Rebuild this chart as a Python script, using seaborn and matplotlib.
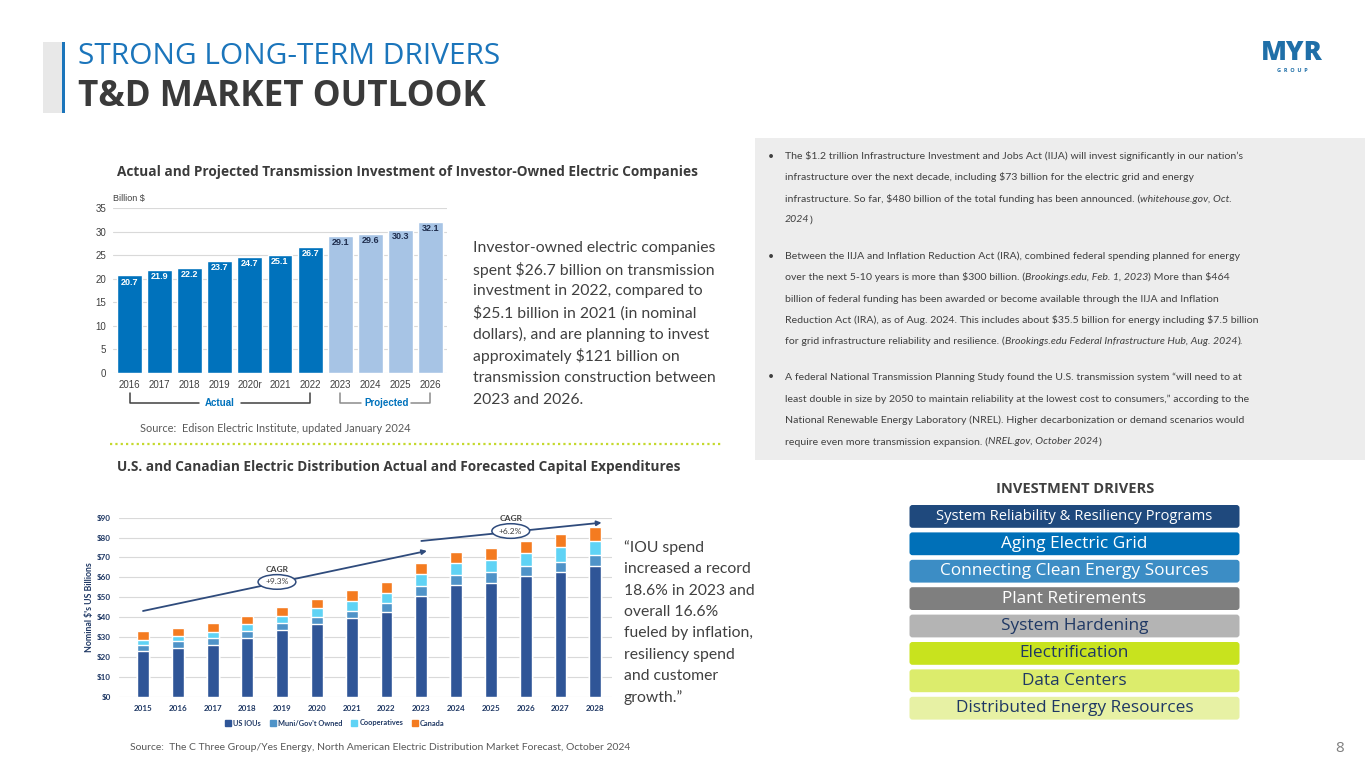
import matplotlib
matplotlib.use("Agg")
import matplotlib.pyplot as plt
import matplotlib.transforms as mtransforms
from matplotlib.patches import Rectangle, FancyBboxPatch, Patch
import pandas as pd
import seaborn as sns

sns.set_theme(style="white")
BODY = ["Lato", "DejaVu Sans"]
HEAD = ["Open Sans", "DejaVu Sans"]
ARIAL = ["Liberation Sans", "DejaVu Sans"]
plt.rcParams["font.family"] = BODY

W, H = 1365, 768

# transmission investment, EEI (billion $)
trans_years = ["2016", "2017", "2018", "2019", "2020r", "2021", "2022", "2023", "2024", "2025", "2026"]
trans_values = [20.7, 21.9, 22.2, 23.7, 24.7, 25.1, 26.7, 29.1, 29.6, 30.3, 32.1]
trans_status = ["Actual"] * 7 + ["Projected"] * 4

# distribution capex, C Three Group (nominal $ billions)
dist_years = [str(y) for y in range(2015, 2029)]
us_ious = [23.1, 24.6, 26.1, 29.7, 33.5, 36.5, 39.4, 42.7, 50.4, 56.1, 57.3, 60.5, 62.7, 65.9]
muni_gov = [2.9, 3.4, 3.2, 3.5, 3.4, 3.6, 3.7, 4.5, 5.4, 5.0, 5.4, 5.0, 5.2, 5.2]
coops = [2.5, 2.5, 3.4, 3.3, 3.8, 4.5, 5.0, 5.0, 5.7, 6.0, 6.0, 6.6, 7.2, 7.2]
canada = [4.5, 4.2, 4.2, 4.2, 4.4, 4.3, 5.5, 5.4, 5.7, 5.7, 6.0, 6.2, 6.5, 6.8]
dist_layers = ["US IOUs", "Muni/Gov't Owned", "Cooperatives", "Canada"]
dist_colors = ["#2f5597", "#4f93c8", "#5fd3f5", "#f47b20"]

# CAGR arrows: (x start, y start, x end, y end) in category / $ units
cagr_labels = ["+9.3%", "+6.2%"]
cagr_arrows = [(0.0, 43.1, 8.16, 73.3), (8.0, 78.3, 13.18, 87.5)]
cagr_label_pos = [(3.85, 57.7), (10.57, 83.3)]

drivers = ["System Reliability & Resiliency Programs", "Aging Electric Grid",
           "Connecting Clean Energy Sources", "Plant Retirements", "System Hardening",
           "Electrification", "Data Centers", "Distributed Energy Resources"]
driver_colors = ["#1f497d", "#0070b8", "#3c8dc5", "#7f7f7f", "#b4b4b4",
                 "#c8e31e", "#dcec6c", "#e7f1a4"]
driver_text = ["white"] * 4 + ["#1f3864"] * 4

bullets = [
    [[("The $1.2 trillion Infrastructure Investment and Jobs Act (IIJA) will invest significantly in our nation’s", False)],
     [("infrastructure over the next decade, including $73 billion for the electric grid and energy", False)],
     [("infrastructure. So far, $480 billion of the total funding has been announced. (", False), ("whitehouse.gov, Oct.", True)],
     [("2024", True), (")", False)]],
    [[("Between the IIJA and Inflation Reduction Act (IRA), combined federal spending planned for energy", False)],
     [("over the next 5-10 years is more than $300 billion. (", False), ("Brookings.edu, Feb. 1, 2023", True), (") More than $464", False)],
     [("billion of federal funding has been awarded or become available through the IIJA and Inflation", False)],
     [("Reduction Act (IRA), as of Aug. 2024. This includes about $35.5 billion for energy including $7.5 billion", False)],
     [("for grid infrastructure reliability and resilience. (", False), ("Brookings.edu Federal Infrastructure Hub, Aug. 2024", True), (").", False)]],
    [[("A federal National Transmission Planning Study found the U.S. transmission system “will need to at", False)],
     [("least double in size by 2050 to maintain reliability at the lowest cost to consumers,” according to the", False)],
     [("National Renewable Energy Laboratory (NREL). Higher decarbonization or demand scenarios would", False)],
     [("require even more transmission expansion. (", False), ("NREL.gov, October 2024", True), (")", False)]],
]
bullet_rows = [[156, 177, 199, 220], [256, 277, 299, 320, 341], [377, 399, 420, 442]]

trans_note = ["Investor-owned electric companies", "spent $26.7 billion on transmission",
              "investment in 2022, compared to", "$25.1 billion in 2021 (in nominal",
              "dollars), and are planning to invest", "approximately $121 billion on",
              "transmission construction between", "2023 and 2026."]
quote = ["“IOU spend", "increased a record", "18.6% in 2023 and", "overall 16.6%",
         "fueled by inflation,", "resiliency spend", "and customer", "growth.”"]

fig = plt.figure(figsize=(W / 100, H / 100), dpi=100)
bg = fig.add_axes([0, 0, 1, 1])
bg.set_xlim(0, W)
bg.set_ylim(H, 0)
bg.axis("off")
R = fig.canvas.get_renderer()


def put(x, y, s, size, color="#404040", family=BODY, **kw):
    kw.setdefault("va", "center")
    return bg.text(x, y, s, fontsize=size, color=color, family=family, parse_math=False, **kw)


def text_width(s, size, family=BODY, **kw):
    t = put(0, 0, "|" + s + "|", size, family=family, **kw)
    t2 = put(0, 0, "||", size, family=family, **kw)
    w = t.get_window_extent(R).width - t2.get_window_extent(R).width
    t.remove()
    t2.remove()
    return w


def fit(s, width, family=BODY, **kw):
    return 10 * width / text_width(s, 10, family, **kw)


def rich(x, y, parts, size, color="#404040", family=BODY):
    for s, italic in parts:
        style = "italic" if italic else "normal"
        put(x, y, s, size, color, family, style=style)
        x += text_width(s, size, family, style=style)


def px_axes(left, top, right, bottom):
    return fig.add_axes([left / W, 1 - bottom / H, (right - left) / W, (bottom - top) / H])


# header
bg.add_patch(Rectangle((43, 42), 19, 71, fc="#e8e8e8", ec="none"))
bg.add_patch(Rectangle((62, 42), 3, 71, fc="#1b75bb", ec="none"))
put(78, 56, "STRONG LONG-TERM DRIVERS", fit("STRONG LONG-TERM DRIVERS", 422, HEAD), "#1b75bb", HEAD)
put(78, 97, "T&D MARKET OUTLOOK", fit("T&D MARKET OUTLOOK", 407, HEAD, weight="bold"),
    "#3a3a3a", HEAD, weight="bold")
put(1292, 53, "MYR", fit("MYR", 62, HEAD, weight="heavy"), "#1f6fa8", HEAD, weight="heavy", ha="center")
put(1292, 71, "G  R  O  U  P", 4, "#1f6fa8", HEAD, ha="center", weight="bold")
put(1340, 748, "8", 11, "#7f7f7f", HEAD, ha="center")

# section titles
sub1 = "Actual and Projected Transmission Investment of Investor-Owned Electric Companies"
sub2 = "U.S. and Canadian Electric Distribution Actual and Forecasted Capital Expenditures"
sub_size = fit(sub1, 582, HEAD, weight="bold")
put(117, 172, sub1, sub_size, "#3b3b3b", HEAD, weight="bold")
put(117, 467, sub2, sub_size, "#3b3b3b", HEAD, weight="bold")
bg.plot([110, 722], [444, 444], color="#c5d92d", lw=1.6, ls=(0, (1, 1.4)))

# transmission bar chart
ax1 = px_axes(113, 208.3, 447, 372.7)
trans = pd.DataFrame({"year": trans_years, "value": trans_values, "status": trans_status})
sns.barplot(data=trans, x="year", y="value", hue="status", dodge=False, width=0.83, saturation=1,
            palette={"Actual": "#0072bc", "Projected": "#a7c4e5"}, legend=False, ax=ax1)
ax1.set_ylim(0, 35)
ax1.set_xlim(-0.55, len(trans_years) - 0.45)
ax1.set_yticks(range(0, 36, 5))
ax1.yaxis.grid(True, color="#d9d9d9", lw=0.8)
ax1.set_axisbelow(True)
sns.despine(ax=ax1, left=True, bottom=True)
ax1.set_xlabel("")
ax1.set_ylabel("")
ax1.tick_params(length=0, labelsize=7, colors="#404040", pad=5)
plt.setp(ax1.get_xticklabels() + ax1.get_yticklabels(), family=ARIAL)
for i, (v, st) in enumerate(zip(trans_values, trans_status)):
    ax1.text(i, v - 1.4, f"{v}", ha="center", va="center", fontsize=6.5, fontweight="bold",
             family=ARIAL, color="white" if st == "Actual" else "#1f2d4d")
put(113, 198, "Billion $", 6.5, "#404040", ARIAL)

# actual / projected brackets
tr = mtransforms.blended_transform_factory(ax1.transData, ax1.transAxes)
for (x0, x1, gap0, gap1, label, lc) in [(0, 6, 2.3, 3.7, "Actual", "#404040"),
                                        (7, 10, 7.7, 9.35, "Projected", "#8c8c8c")]:
    ax1.plot([x0, x0, gap0], [-0.125, -0.185, -0.185], color=lc, lw=1.1, transform=tr, clip_on=False)
    ax1.plot([gap1, x1, x1], [-0.185, -0.185, -0.125], color=lc, lw=1.1, transform=tr, clip_on=False)
    ax1.text((gap0 + gap1) / 2, -0.185, label, transform=tr, ha="center", va="center",
             fontsize=7, fontweight="bold", family=ARIAL, color="#0072bc")
put(140, 428, "Source:  Edison Electric Institute, updated January 2024",
    fit("Source:  Edison Electric Institute, updated January 2024", 271), "#595959")

# note next to transmission chart
note_size = fit(trans_note[0], 242)
for k, line in enumerate(trans_note):
    put(473, 248 + 21.7 * k, line, note_size, "#404040")

# distribution stacked chart
ax2 = px_axes(119, 517.7, 612, 696.7)
dist = pd.DataFrame({"year": dist_years, "US IOUs": us_ious, "Muni/Gov't Owned": muni_gov,
                     "Cooperatives": coops, "Canada": canada})
cum = dist[dist_layers].cumsum(axis=1)
for name, color in reversed(list(zip(dist_layers, dist_colors))):
    sns.barplot(x=dist["year"], y=cum[name], color=color, width=0.34, saturation=1, ax=ax2)
ax2.set_ylim(0, 90)
ax2.set_xlim(-0.69, 13.48)
ax2.set_yticks(range(0, 91, 10))
ax2.set_yticklabels([f"${v}" for v in range(0, 91, 10)])
ax2.yaxis.grid(True, color="#d9d9d9", lw=0.8)
ax2.set_axisbelow(True)
sns.despine(ax=ax2, left=True, bottom=True)
ax2.set_xlabel("")
ax2.set_ylabel("Nominal $'s US Billions", fontsize=6.3, fontweight="bold", color="#1f3864")
ax2.yaxis.set_label_coords(-0.05, 0.5)
ax2.tick_params(length=0, labelsize=5.8, colors="#1f3864", pad=6)
plt.setp(ax2.get_xticklabels() + ax2.get_yticklabels(), fontweight="bold")
for (xs, ys, xe, ye), lab, (lx, ly) in zip(cagr_arrows, cagr_labels, cagr_label_pos):
    ax2.annotate("", xy=(xe, ye), xytext=(xs, ys), annotation_clip=False,
                 arrowprops=dict(arrowstyle="-|>", color="#2f4b7c", lw=1.3, mutation_scale=7,
                                 shrinkA=0, shrinkB=0))
    ax2.text(lx, ly, lab, ha="center", va="center", fontsize=6, color="#404040", clip_on=False,
             bbox=dict(boxstyle="ellipse,pad=0.2", fc="white", ec="#2f4b7c", lw=1.1))
    ax2.text(lx, ly + 6.5, "CAGR", ha="center", va="center", fontsize=6, fontweight="bold",
             color="#404040", clip_on=False)
handles = [Patch(color=c, label=n) for n, c in zip(dist_layers, dist_colors)]
leg = ax2.legend(handles=handles, loc="center", bbox_to_anchor=(335 / W, 1 - 723 / H),
                 bbox_transform=fig.transFigure, ncol=4, frameon=False, handlelength=0.8,
                 handleheight=0.8, handletextpad=0.3, columnspacing=1.2,
                 prop={"size": 5.3, "weight": "bold"})
for t in leg.get_texts():
    t.set_color("#1f3864")
src2 = "Source:  The C Three Group/Yes Energy, North American Electric Distribution Market Forecast, October 2024"
put(130, 747, src2, fit(src2, 502), "#595959")

for k, line in enumerate(quote):
    put(624, 548 + 21.3 * k, line, note_size, "#404040")

# right panel (Lato is wider than the original face, so size up slightly)
bg.add_patch(Rectangle((755, 138), W - 755, 322, fc="#ededed", ec="none"))
panel_size = fit(bullets[0][0][0][0], 428) * 1.06
for rows, lines in zip(bullet_rows, bullets):
    put(771, rows[0], "•", panel_size, "#404040", ha="center")
    for y, parts in zip(rows, lines):
        rich(785, y, parts, panel_size)

# investment drivers
put(1075, 489, "INVESTMENT DRIVERS", fit("INVESTMENT DRIVERS", 157, HEAD, weight="bold"),
    "#404040", HEAD, weight="bold", ha="center")
drv_size = fit("Connecting Clean Energy Sources", 268, HEAD)
for k, (name, fc, tc) in enumerate(zip(drivers, driver_colors, driver_text)):
    top = 505 + 27.4 * k
    bg.add_patch(FancyBboxPatch((909.5, top), 330, 22.8, boxstyle="round,pad=0,rounding_size=3",
                                fc=fc, ec="none"))
    size = fit(name, 277, HEAD) if k == 0 else drv_size
    put(1074.5, top + 11.4, name, size, tc, HEAD, ha="center")

fig.savefig("out.png", dpi=100)
plt.close(fig)
